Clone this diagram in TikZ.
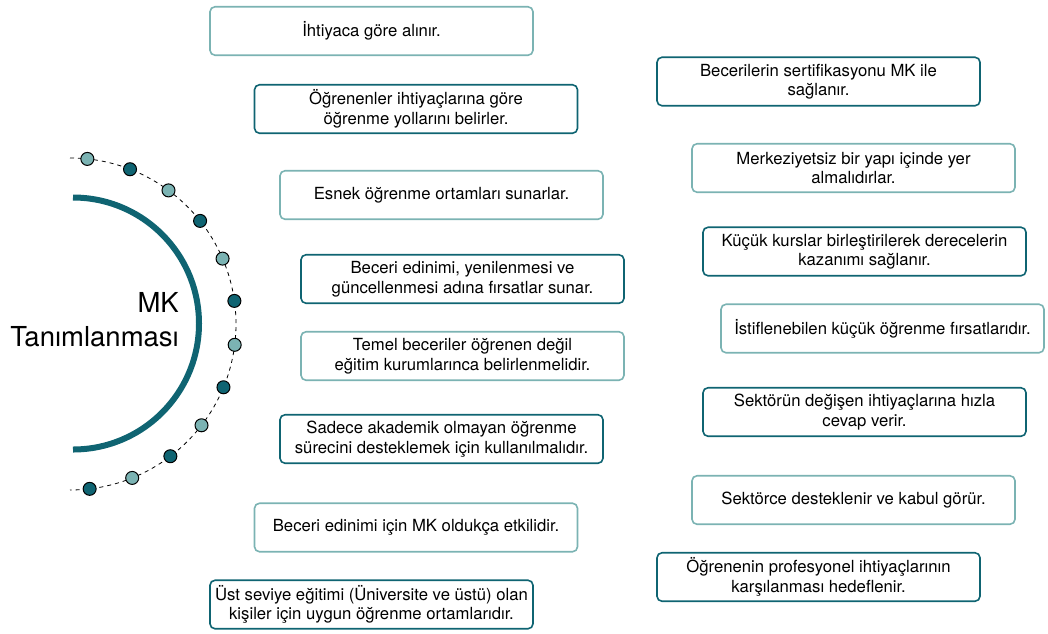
\documentclass[tikz,border=0pt]{standalone}
\usepackage{fontspec}
\setmainfont{TeX Gyre Heros}
\definecolor{dk}{HTML}{0F6472}
\definecolor{lt}{HTML}{7BB3B3}
\begin{document}
\begin{tikzpicture}[x=1pt,y=-1pt,
  box/.style={draw, rounded corners=5pt, line width=1.6pt, fill=white,
    minimum width=323pt, minimum height=48.5pt, align=center, inner sep=2pt,
    font=\fontsize{16.7}{19.5}\selectfont},
  bl/.style={box, draw=lt},
  bd/.style={box, draw=dk},
  dotd/.style={circle, draw=black, line width=1pt, fill=dk, minimum size=13pt, inner sep=0pt},
  dotl/.style={circle, draw=black, line width=1pt, fill=lt, minimum size=13pt, inner sep=0pt}]
\useasboundingbox (0,0) rectangle (1048,633);
% central arc
\coordinate (arcc) at (73,323.5);
\draw[dk, line width=6pt] (73,197.5) arc[start angle=-90, end angle=90, radius=126];
\node[anchor=east, align=right, font=\fontsize{27.5}{34}\selectfont, inner sep=0pt] (title) at (179,320) {MK\\Tanımlanması};
% dashed arc
\coordinate (dc) at (70,324);
\draw[black, line width=0.8pt, dash pattern=on 4pt off 4pt] (70,158) arc[start angle=-90, end angle=90, radius=166];
\foreach \i in {0,...,11}{
  \pgfmathsetmacro{\ang}{-84+\i*15.2}
  \pgfmathtruncatemacro{\myparity}{mod(\i,2)}
  \ifnum\myparity=0
    \node[dotl] (d\i) at ([shift={(\ang:166)}]dc) {};
  \else
    \node[dotd] (d\i) at ([shift={(\ang:166)}]dc) {};
  \fi
}
% left boxes
\node[bl] (b1) at (371.5,31) {İhtiyaca göre alınır.};
\node[bd] (b2) at (416,109) {Öğrenenler ihtiyaçlarına göre\\öğrenme yollarını belirler.};
\node[bl] (b3) at (441.5,195) {Esnek öğrenme ortamları sunarlar.};
\node[bd] (b4) at (462.5,279) {Beceri edinimi, yenilenmesi ve\\güncellenmesi adına fırsatlar sunar.};
\node[bl] (b5) at (462.5,356) {Temel beceriler öğrenen değil\\eğitim kurumlarınca belirlenmelidir.};
\node[bd] (b6) at (441.5,439) {Sadece akademik olmayan öğrenme\\sürecini desteklemek için kullanılmalıdır.};
\node[bl] (b7) at (416,527.5) {Beceri edinimi için MK oldukça etkilidir.};
\node[bd] (b8) at (371.5,604.5) {Üst seviye eğitimi (Üniversite ve üstü) olan\\kişiler için uygun öğrenme ortamlarıdır.};
% right boxes
\node[bd] (b9) at (818.5,81.5) {Becerilerin sertifikasyonu MK ile\\sağlanır.};
\node[bl] (b10) at (853.5,168) {Merkeziyetsiz bir yapı içinde yer\\almalıdırlar.};
\node[bd] (b11) at (864.5,251.5) {Küçük kurslar birleştirilerek derecelerin\\kazanımı sağlanır.};
\node[bl] (b12) at (882.5,328.5) {İstiflenebilen küçük öğrenme fırsatlarıdır.};
\node[bd] (b13) at (864.5,412) {Sektörün değişen ihtiyaçlarına hızla\\cevap verir.};
\node[bl] (b14) at (853.5,500) {Sektörce desteklenir ve kabul görür.};
\node[bd] (b15) at (818.5,577) {Öğrenenin profesyonel ihtiyaçlarının\\karşılanması hedeflenir.};
\end{tikzpicture}
\end{document}
